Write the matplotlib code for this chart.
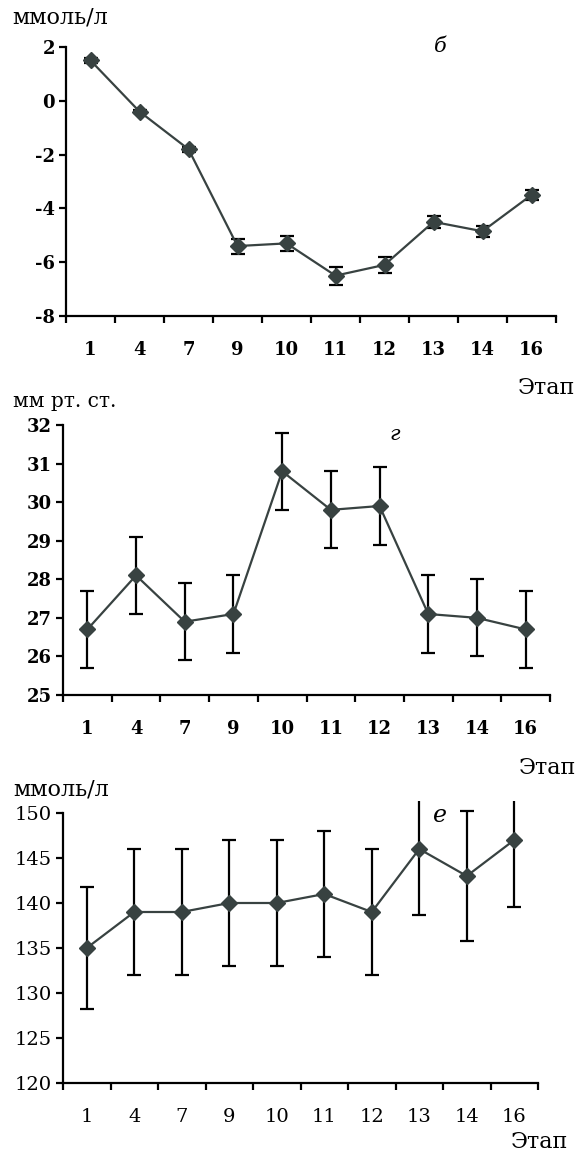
import matplotlib.pyplot as plt
import numpy as np

plt.rcParams['font.family'] = ['DejaVu Serif']

# Этапы (общие для всех панелей)
etapy = ["1", "4", "7", "9", "10", "11", "12", "13", "14", "16"]

# Панель б (ммоль/л)
b_val = [1.5, -0.4, -1.8, -5.4, -5.3, -6.5, -6.1, -4.5, -4.85, -3.5]
b_err = [0.1, 0.07, 0.1, 0.28, 0.27, 0.33, 0.3, 0.22, 0.2, 0.18]

# Панель г (мм рт. ст.)
g_val = [26.7, 28.1, 26.9, 27.1, 30.8, 29.8, 29.9, 27.1, 27.0, 26.7]
g_err = [1.0, 1.0, 1.0, 1.0, 1.0, 1.0, 1.0, 1.0, 1.0, 1.0]

# Панель е (ммоль/л)
e_val = [135, 139, 139, 140, 140, 141, 139, 146, 143, 147]
e_err = [6.8, 7, 7, 7, 7, 7, 7, 7.3, 7.2, 7.4]

W, H = 580, 1154
fig = plt.figure(figsize=(W / 100, H / 100), dpi=100)

def px(x, y):
    return x / W, 1 - y / H

col = '#384241'


def panel(rect, val, err, ylim, yticks, bold, fs, spine_top=None):
    ax = fig.add_axes(rect)
    x = np.arange(len(etapy))
    ax.errorbar(x, val, yerr=err, fmt='none', ecolor='black', elinewidth=1.6,
                capsize=5, capthick=1.6, zorder=2)
    ax.plot(x, val, color=col, lw=1.6, marker='D', markersize=8,
            markerfacecolor=col, markeredgecolor=col, zorder=3)
    ax.set_xlim(-0.5, len(etapy) - 0.5)
    ax.set_ylim(*ylim)
    w = 'bold' if bold else 'normal'
    ax.set_yticks(yticks)
    ax.set_yticklabels([str(t) for t in yticks], fontweight=w, fontsize=fs)
    ax.set_xticks(np.arange(-0.5, len(etapy), 1.0))
    ax.set_xticklabels([])
    ax.set_xticks(x, minor=True)
    ax.set_xticklabels(etapy, minor=True, fontsize=fs, fontweight=w)
    ax.tick_params(axis='x', which='minor', length=0, pad=18)
    ax.tick_params(axis='x', which='major', direction='out', length=5, width=1.6)
    ax.tick_params(axis='y', direction='out', length=5, width=1.6, pad=3)
    for s in ['top', 'right']:
        ax.spines[s].set_visible(False)
    for s in ['left', 'bottom']:
        ax.spines[s].set_linewidth(1.6)
    if spine_top is not None:
        ax.spines['left'].set_bounds(ylim[0], spine_top)
    return ax


# Панель б
panel([66 / W, 1 - 316 / H, 490 / W, 269 / H], b_val, b_err, (-8, 2),
      [-8, -6, -4, -2, 0, 2], True, 13)
# Панель г
panel([63 / W, 1 - 695 / H, 487 / W, 270 / H], g_val, g_err, (25, 32),
      [25, 26, 27, 28, 29, 30, 31, 32], True, 13)
# Панель е (усы выходят выше 150)
h3 = 270 / H
panel([63 / W, 1 - 1083 / H, 475 / W, h3 * 31.3 / 30], e_val, e_err, (120, 151.3),
      [120, 125, 130, 135, 140, 145, 150], False, 14, spine_top=150)

# Подписи
fig.text(*px(12, 18), "ммоль/л", fontsize=16, va='center', ha='left')
fig.text(*px(575, 388), "Этап", fontsize=16, va='center', ha='right')
fig.text(*px(440, 47), "б", fontsize=15, style='italic', va='center', ha='center')

fig.text(*px(13, 402), "мм рт. ст.", fontsize=14.5, va='center', ha='left')
fig.text(*px(576, 768), "Этап", fontsize=16, va='center', ha='right')
fig.text(*px(395, 435), "г", fontsize=15, style='italic', va='center', ha='center')

fig.text(*px(13, 790), "ммоль/л", fontsize=16, va='center', ha='left')
fig.text(*px(568, 1142), "Этап", fontsize=16, va='center', ha='right')
fig.text(*px(440, 815), "е", fontsize=17, style='italic', va='center', ha='center')

fig.savefig("out.png", dpi=100)
